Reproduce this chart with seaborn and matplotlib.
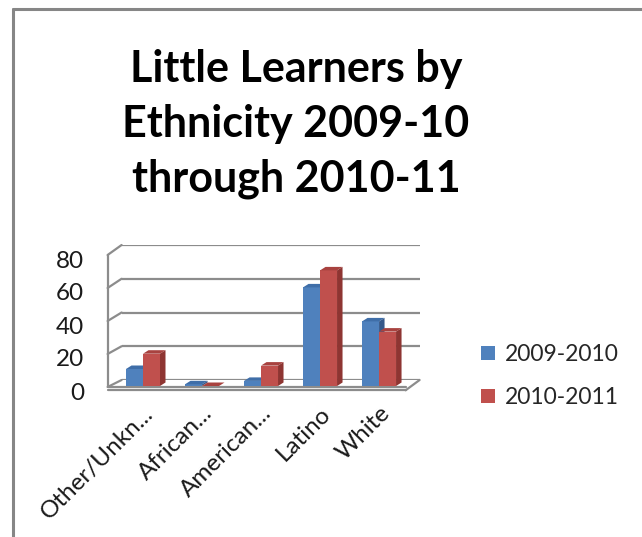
import numpy as np
import pandas as pd
import matplotlib
matplotlib.use("Agg")
import matplotlib.pyplot as plt
import seaborn as sns
from matplotlib.patches import Polygon, ConnectionPatch
from matplotlib.transforms import IdentityTransform, ScaledTranslation
from matplotlib.lines import Line2D

# ---------------- data ----------------
categories = ["Other/Unkn...", "African...", "American...", "Latino", "White"]
series_names = ["2009-2010", "2010-2011"]
values_2009_10 = [10, 1, 3, 58, 38]
values_2010_11 = [19, 0, 12, 68, 32]
y_ticks = [0, 20, 40, 60, 80]
title_text = "Little Learners by\nEthnicity 2009-10\nthrough 2010-11"

colors = ["#4F81BD", "#C0504D"]
side_colors = ["#35598A", "#8E3532"]
top_colors = ["#3F6EA8", "#A8423F"]

df = pd.DataFrame({
    "Ethnicity": categories * 2,
    "Year": [series_names[0]] * len(categories) + [series_names[1]] * len(categories),
    "Count": values_2009_10 + values_2010_11,
})

sns.set_theme(style="white")
plt.rcParams["font.family"] = ["Lato", "DejaVu Sans"]

W, H = 642, 537
fig = plt.figure(figsize=(W / 100, H / 100), dpi=100)


def frac(left_px, top_px, right_px, bottom_px):
    return [left_px / W, 1 - bottom_px / H, (right_px - left_px) / W, (bottom_px - top_px) / H]


xlim = (-0.6, 4.45)
x_left_px, x_right_px = 107.6, 405.6

# back wall (gridlines)
ax_back = fig.add_axes(frac(x_left_px + 14, 245, x_right_px + 14, 380))
ax_back.set_xlim(*xlim)
ax_back.set_ylim(0, 80)
ax_back.axis("off")
for v in y_ticks:
    ax_back.axhline(v, color="#8C8C8C", lw=1.6, zorder=1)

# front wall (labels and left edge)
ax_front = fig.add_axes(frac(x_left_px, 255, x_right_px, 387))
ax_front.set_xlim(*xlim)
ax_front.set_ylim(0, 80)
ax_front.patch.set_alpha(0)
for s in ax_front.spines.values():
    s.set_visible(False)
ax_front.set_xticks([])
ax_front.set_yticks(y_ticks)
ax_front.set_yticklabels([str(v) for v in y_ticks], fontsize=17.5, color="#1a1a1a")
ax_front.tick_params(axis="y", length=0, pad=17)
for lab in ax_front.get_yticklabels():
    lab.set_transform(lab.get_transform() + ScaledTranslation(0, -4 / 100, fig.dpi_scale_trans))
ax_front.plot([xlim[0], xlim[0]], [0, 80], color="#8C8C8C", lw=1.6, clip_on=False)
ax_front.plot([xlim[0], xlim[1]], [0, 0], color="#8C8C8C", lw=1.6, clip_on=False)
ax_front.plot([xlim[0], xlim[1]], [-2, -2], color="#8C8C8C", lw=1.6, clip_on=False)

for v in y_ticks:
    con = ConnectionPatch(xyA=(xlim[0], v), coordsA=ax_front.transData,
                          xyB=(xlim[0], v), coordsB=ax_back.transData,
                          color="#8C8C8C", lw=1.6)
    fig.add_artist(con)
con = ConnectionPatch(xyA=(xlim[1], -2), coordsA=ax_front.transData,
                      xyB=(xlim[1], 0), coordsB=ax_back.transData,
                      color="#8C8C8C", lw=1.6)
fig.add_artist(con)

# bars
ax = fig.add_axes(frac(x_left_px, 250, x_right_px, 386))
sns.barplot(data=df, x="Ethnicity", y="Count", hue="Year", hue_order=series_names,
            palette=colors, width=0.576, saturation=1, ax=ax, linewidth=0)
ax.set_xlim(*xlim)
ax.set_ylim(0, 80)
ax.patch.set_alpha(0)
for s in ax.spines.values():
    s.set_visible(False)
ax.set_yticks([])
ax.set_xlabel("")
ax.set_ylabel("")
ax.tick_params(axis="x", length=0, pad=12)
plt.setp(ax.get_xticklabels(), rotation=45, ha="right", va="top",
         rotation_mode="anchor", fontsize=17.5, color="#1a1a1a")

# 3D faces
dx, dy = 5.5, 3.5
for i, p in enumerate(list(ax.patches)):
    hue_idx = 0 if i < len(categories) else 1
    x0 = p.get_x()
    x1 = x0 + p.get_width()
    h = p.get_height()
    p.set_zorder(2 + hue_idx)
    (X0, Y0) = ax.transData.transform((x0, 0))
    (X1, Yh) = ax.transData.transform((x1, h))
    top = Polygon([(X0, Yh), (X1, Yh), (X1 + dx, Yh + dy), (X0 + dx, Yh + dy)],
                  closed=True, transform=IdentityTransform(), facecolor=top_colors[hue_idx],
                  edgecolor="none", zorder=2.5 + hue_idx, clip_on=False)
    side = Polygon([(X1, Y0), (X1, Yh), (X1 + dx, Yh + dy), (X1 + dx, Y0 + dy)],
                   closed=True, transform=IdentityTransform(), facecolor=side_colors[hue_idx],
                   edgecolor="none", zorder=2.5 + hue_idx, clip_on=False)
    ax.add_patch(top)
    ax.add_patch(side)

sns.move_legend(ax, loc="center left", bbox_to_anchor=(481 / W, 1 - 376 / H),
                bbox_transform=fig.transFigure, frameon=False, title=None,
                fontsize=16.5, handlelength=0.6, handleheight=0.6,
                handletextpad=0.45, labelspacing=0.95, borderpad=0, borderaxespad=0)

# title
fig.text(296 / W, 1 - 124 / H, title_text, ha="center", va="center",
         fontsize=31, fontweight="bold", linespacing=1.45, color="black")

# chart border (left and top)
fig.add_artist(Line2D([13 / W, 13 / W], [0, 1 - 9 / H], transform=fig.transFigure,
                      color="#868686", lw=2.2))
fig.add_artist(Line2D([13 / W, 1], [1 - 9 / H, 1 - 9 / H], transform=fig.transFigure,
                      color="#868686", lw=2.2))

fig.savefig("out.png", dpi=100, facecolor="white")
